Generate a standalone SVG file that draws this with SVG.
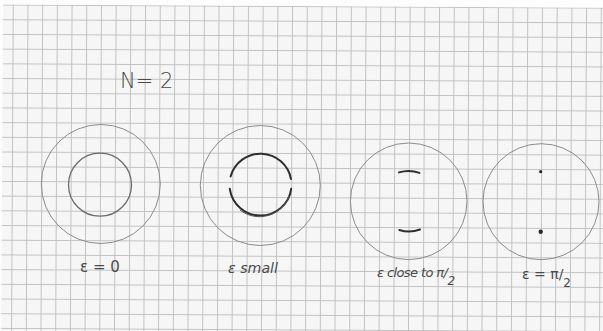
<svg xmlns="http://www.w3.org/2000/svg" width="603" height="331" viewBox="0 0 603 331">
<style>
.outer{fill:none;stroke:#8c8c8c;stroke-width:1}
.inner{fill:none;stroke:#6a6a6a;stroke-width:1.3}
.thick{fill:none;stroke:#2e2e2e;stroke-width:2;stroke-linecap:round}
.lbl{font-family:"DejaVu Sans","Liberation Sans",sans-serif;fill:#4a4a4a}
</style>
<defs>
<pattern id="grid" patternUnits="userSpaceOnUse" x="12.8" y="4.5" width="14.7" height="14.7">
<path d="M0 0.5H14.7M0.5 0V14.7" stroke="#c2c2c2" stroke-width="1" fill="none"/>
</pattern>
</defs>
<rect width="603" height="331" fill="#fdfdfd"/>
<g id="paper" transform="rotate(0.3)">
<rect x="3" y="4.5" width="620" height="340" fill="#f6f6f6"/>
<rect x="3" y="4.5" width="620" height="340" fill="url(#grid)"/>
</g>
<g id="title">
<text class="lbl" x="120" y="88" font-size="21" font-weight="300">N= 2</text>
</g>
<g id="panel-eps0">
<circle class="outer" cx="100.8" cy="184" r="59.5"/>
<circle class="inner" cx="100" cy="184.7" r="31.5"/>
<circle cx="100" cy="185" r="0.6" fill="#aaa"/>
<text class="lbl" x="100" y="272" font-size="15" text-anchor="middle">ε = 0</text>
</g>
<g id="panel-small">
<circle class="outer" cx="260.3" cy="185.5" r="60"/>
<path class="thick" d="M230.6 176.5A31 31 0 0 1 291 179.1"/>
<path class="thick" d="M229.8 188.8A31 31 0 0 0 291.2 188.8"/>
<path fill="none" stroke="#555" stroke-width="1" d="M240 210A31.5 31.5 0 0 0 289 196"/>
<text class="lbl" x="228" y="273" font-size="14" font-style="italic" textLength="50" lengthAdjust="spacingAndGlyphs">ε small</text>
</g>
<g id="panel-close">
<circle class="outer" cx="408.7" cy="201.3" r="58.3"/>
<path class="thick" d="M399 172.4A31.5 31.5 0 0 1 419.5 172.9"/>
<path class="thick" d="M399.3 230A31.5 31.5 0 0 0 420 229.5"/>
<text class="lbl" x="377" y="277" font-size="13" font-style="italic" letter-spacing="-0.6">ε close to π/<tspan dy="8" font-size="12">2</tspan></text>
</g>
<g id="panel-half">
<circle class="outer" cx="541" cy="201.7" r="58"/>
<circle cx="540.7" cy="171.7" r="1.6" fill="#2a2a2a"/>
<circle cx="540.7" cy="231.7" r="2.2" fill="#2a2a2a"/>
<text class="lbl" x="522" y="279" font-size="14">ε = π/<tspan dy="8" font-size="12">2</tspan></text>
</g>
</svg>
